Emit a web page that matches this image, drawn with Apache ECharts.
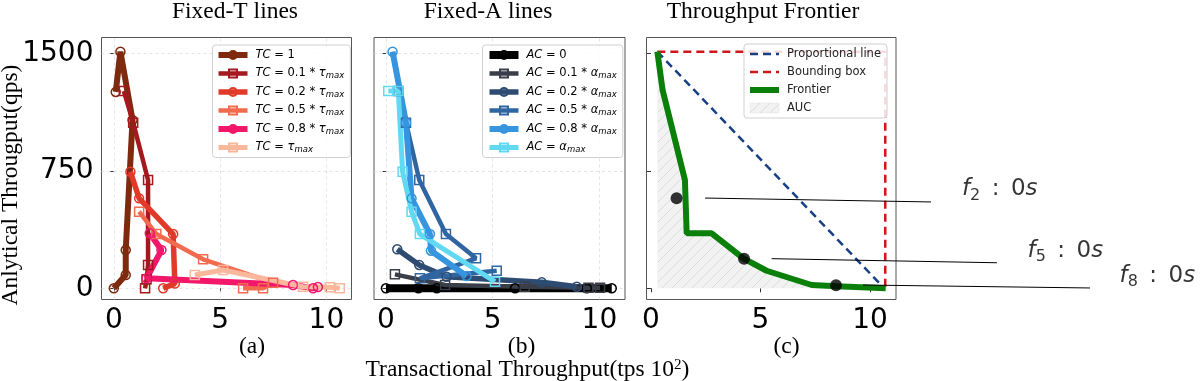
<!DOCTYPE html>
<html><head><meta charset="utf-8">
<script src="https://cdn.jsdelivr.net/npm/echarts@6/dist/echarts.min.js"></script>
<style>html,body{margin:0;padding:0;background:#fff}#c{width:1200px;height:381px}</style>
</head><body><div id="c"></div>
<script>
// ---------- data ----------
const xTicks = [0, 5, 10];
const yTicks = [0, 750, 1500];

const tcNames = ['TC=1', 'TC=0.1', 'TC=0.2', 'TC=0.5', 'TC=0.8', 'TC=max'];
const tcLabels = ['{i|TC} = 1', '{i|TC} = 0.1 * {i|τ}{s|max}', '{i|TC} = 0.2 * {i|τ}{s|max}', '{i|TC} = 0.5 * {i|τ}{s|max}', '{i|TC} = 0.8 * {i|τ}{s|max}', '{i|TC} = {i|τ}{s|max}'];
const tc1 = [[0,0],[0.56,85],[0.56,244],[0.88,1074],[0.31,1510],[0.09,1253]];
const tc01 = [[0.47,1259],[0.91,1057],[1.61,691],[1.61,149],[1.54,57],[1.47,0]];
const tc02 = [[2.32,0],[2.87,30],[2.79,346],[1.19,574],[0.78,744]];
const tc05 = [[1.19,489],[2.0,346],[4.2,185],[7.49,36],[7.02,0],[6.08,0]];
const tc08 = [[1.69,351],[2.24,244],[1.54,64],[8.43,21],[9.37,0],[9.6,8]];
const tcMax = [[3.81,85],[5.14,117],[8.9,10],[10.16,6],[10.63,0]];

const acNames = ['AC=0', 'AC=0.1', 'AC=0.2', 'AC=0.5', 'AC=0.8', 'AC=max'];
const acLabels = ['{i|AC} = 0', '{i|AC} = 0.1 * {i|α}{s|max}', '{i|AC} = 0.2 * {i|α}{s|max}', '{i|AC} = 0.5 * {i|α}{s|max}', '{i|AC} = 0.8 * {i|α}{s|max}', '{i|AC} = {i|α}{s|max}'];
const ac0 = [[0,0],[1.52,0],[2.38,0],[6.05,0],[9.41,0],[10.58,0]];
const ac01 = [[0.42,89],[2.77,21],[6.5,10],[9.49,4],[10.03,4]];
const ac02 = [[0.53,249],[1.56,149],[2.84,74],[7.3,38],[8.94,10]];
const ac05 = [[0.58,1259],[0.94,1057],[1.56,691],[2.81,346],[4.22,191],[1.59,64],[5.19,112]];
const ac08 = [[0.31,1510],[0.94,1057],[1.2,574],[2.06,346],[2.11,240],[3.78,78]];
const acMax = [[0.11,1259],[0.58,1259],[0.78,744],[1.2,489],[1.59,346],[5.11,42]];

const frontier = [[0.29,1510],[0.53,1265],[1.55,691],[1.63,351],[2.77,351],[4.22,191],[5.28,112],[7.34,21],[8.48,13],[10.72,0]];
const proportional = [[0.29,1510],[10.6,8]];
const boundingBox = [[0.29,1510],[10.7,1510],[10.7,0]];
const frontierDots = [[1.17,574],[4.25,189],[8.45,19]];
const annLines = [[2.47,576,12.79,551], [5.51,189,15.8,163], [9.68,21,20.05,2]];
const annTextPos = [[14.2,631],[17.2,240],[21.4,80]];
const annSubs = ['2', '5', '8'];

const titles = ['Fixed-T lines', 'Fixed-A lines', 'Throughput Frontier'];
const panelTags = ['(a)', '(b)', '(c)'];

// ---------- styles ----------
const tcColors = ['#7e2a0e', '#a3191d', '#e03a29', '#f36b4f', '#f2176a', '#f9b79c'];
const tcSymbols = ['circle', 'rect', 'circle', 'rect', 'circle', 'rect'];
const tcWidths = [6, 4.5, 5.5, 4.5, 6, 5];
const acColors = ['#000000', '#3a3e48', '#2e4b72', '#2f66a2', '#3794df', '#62d9f3'];
const acWidths = [8, 4.5, 5.5, 4.5, 6, 5];

const hatch = document.createElement('canvas');
hatch.width = 10; hatch.height = 10;
(function(){
  const g = hatch.getContext('2d');
  g.fillStyle = '#f2f2f2'; g.fillRect(0,0,10,10);
  g.strokeStyle = '#d6d6d6'; g.lineWidth = 0.8;
  g.beginPath(); g.moveTo(0,10); g.lineTo(10,0); g.moveTo(-1,1); g.lineTo(1,-1); g.moveTo(9,11); g.lineTo(11,9); g.stroke();
})();
const hatchFill = {image: hatch, repeat: 'repeat'};

const GT = 37.5, GH = 262;
const grids = [
  {left: 101.5, top: GT, width: 250, height: GH},
  {left: 374, top: GT, width: 251, height: GH},
  {left: 646.5, top: GT, width: 249.5, height: GH}
];
grids.forEach(g => { g.show = true; g.borderColor = '#555'; g.borderWidth = 1; g.backgroundColor = 'transparent'; g.containLabel = false; });
const xRanges = [[-0.58, 11.18], [-0.56, 11.2], [-0.205, 11.19]];

const xAxes = xRanges.map((r, i) => ({
  type: 'value', gridIndex: i, min: r[0], max: r[1],
  axisLine: {show: false}, splitLine: {show: false},
  axisTick: {show: true, customValues: xTicks, length: 4, lineStyle: {color: '#333'}},
  axisLabel: {show: true, customValues: xTicks, margin: 7, fontSize: 28, fontFamily: 'DejaVu Sans', color: '#000', formatter: v => String(v)}
}));
const yAxes = [0,1,2].map(i => ({
  type: 'value', gridIndex: i, min: -71.5, max: 1600.5,
  axisLine: {show: false}, splitLine: {show: false},
  axisTick: {show: true, customValues: yTicks, length: 4, lineStyle: {color: '#333'}},
  axisLabel: {show: i === 0, customValues: yTicks, margin: 8, fontSize: 28, fontFamily: 'DejaVu Sans', color: '#000', formatter: v => String(v)}
}));

function gridLines(i) {
  return {
    type: 'scatter', xAxisIndex: i, yAxisIndex: i, data: [[0,0]], symbolSize: 0, silent: true, z: 1,
    markLine: {silent: true, z: 1, symbol: 'none', animation: false, label: {show: false},
      lineStyle: {color: '#dedede', type: [3, 3], width: 0.8},
      data: xTicks.map(v => ({xAxis: v})).concat(yTicks.map(v => ({yAxis: v})))}
  };
}
function markerLine(name, data, color, sym, width, gi) {
  return {
    type: 'line', name: name, data: data, xAxisIndex: gi, yAxisIndex: gi,
    symbol: sym, symbolSize: 9, showSymbol: true, z: 3,
    lineStyle: {color: color, width: width},
    itemStyle: {color: 'rgba(255,255,255,0)', borderColor: color, borderWidth: 1.5},
    emphasis: {disabled: true}, animation: false
  };
}

const series = [gridLines(0), gridLines(1)];
[tc1, tc01, tc02, tc05, tc08, tcMax].forEach((d, k) => series.push(markerLine(tcNames[k], d, tcColors[k], tcSymbols[k], tcWidths[k], 0)));
[ac0, ac01, ac02, ac05, ac08, acMax].forEach((d, k) => series.push(markerLine(acNames[k], d, acColors[k], tcSymbols[k], acWidths[k], 1)));

series.push({type: 'line', name: 'AUC', data: frontier, xAxisIndex: 2, yAxisIndex: 2, symbol: 'none', z: 1,
  lineStyle: {width: 0, opacity: 0}, itemStyle: {color: hatchFill}, areaStyle: {color: hatchFill, origin: 0, opacity: 1}, animation: false});
series.push({type: 'line', name: 'Proportional line', data: proportional, xAxisIndex: 2, yAxisIndex: 2, symbol: 'none', z: 2,
  lineStyle: {color: '#173f84', width: 2.5, type: [8, 5]}, itemStyle: {color: '#173f84'}, animation: false});
series.push({type: 'line', name: 'Bounding box', data: boundingBox, xAxisIndex: 2, yAxisIndex: 2, symbol: 'none', z: 2,
  lineStyle: {color: '#d0161b', width: 2.5, type: [8, 5]}, itemStyle: {color: '#d0161b'}, animation: false});
series.push({type: 'line', name: 'Frontier', data: frontier, xAxisIndex: 2, yAxisIndex: 2, symbol: 'none', z: 3,
  lineStyle: {color: '#0a800a', width: 6}, itemStyle: {color: '#0a800a'}, animation: false});
series.push({type: 'scatter', data: frontierDots, xAxisIndex: 2, yAxisIndex: 2, symbolSize: 12, z: 5,
  itemStyle: {color: '#000'}, animation: false});
series.push({type: 'custom', data: annLines, xAxisIndex: 2, yAxisIndex: 2, clip: false, z: 6, silent: true, animation: false,
  encode: {x: [0, 2], y: [1, 3]},
  renderItem: (params, api) => {
    const a = api.coord([api.value(0), api.value(1)]);
    const b = api.coord([api.value(2), api.value(3)]);
    return {type: 'line', shape: {x1: a[0], y1: a[1], x2: b[0], y2: b[1]}, style: {stroke: '#000', lineWidth: 1}};
  }});
series.push({type: 'scatter', data: annTextPos, xAxisIndex: 2, yAxisIndex: 2,
  symbolSize: 0, clip: false, z: 6, silent: true, animation: false,
  label: {show: true, position: 'right', distance: 0, color: '#000',
    formatter: p => '{f|f}{sb|' + annSubs[p.dataIndex] + '}{t|\u2002:\u20020}{f|s}',
    rich: {
      f: {fontFamily: 'DejaVu Sans', fontStyle: 'italic', fontSize: 23, lineHeight: 28, color: '#000'},
      t: {fontFamily: 'DejaVu Sans', fontSize: 23, lineHeight: 28, color: '#000'},
      sb: {fontFamily: 'DejaVu Sans', fontSize: 16, lineHeight: 18, verticalAlign: 'bottom', color: '#000'}
    }}});

const legRich = {
  i: {fontFamily: 'DejaVu Sans', fontStyle: 'italic', fontSize: 11.5, lineHeight: 14, color: '#000'},
  s: {fontFamily: 'DejaVu Sans', fontStyle: 'italic', fontSize: 8.5, lineHeight: 9, verticalAlign: 'bottom', color: '#000'}
};
function makeLegend(names, labels, widths, left, top) {
  const map = {}; names.forEach((n, k) => map[n] = labels[k]);
  return {
    orient: 'vertical', left: left, top: top, selectedMode: false,
    data: names.map((n, k) => ({name: n, lineStyle: {width: widths[k]}})),
    itemWidth: 29, itemHeight: 10, itemGap: 4.5, padding: [3, 6, 3, 3],
    backgroundColor: 'rgba(255,255,255,0.85)', borderColor: '#d0d0d0', borderWidth: 1, borderRadius: 3,
    formatter: n => map[n],
    textStyle: {fontFamily: 'DejaVu Sans', fontSize: 11.5, lineHeight: 14, color: '#000', padding: [0,0,0,3], rich: legRich}
  };
}
const legends = [
  makeLegend(tcNames, tcLabels, tcWidths, 212.5, 45),
  makeLegend(acNames, acLabels, acWidths, 482.5, 45),
  {orient: 'vertical', left: 744, top: 44, selectedMode: false,
   data: [
     {name: 'Proportional line', itemStyle: {opacity: 0}, lineStyle: {width: 2.5}},
     {name: 'Bounding box', itemStyle: {opacity: 0}, lineStyle: {width: 2.5}},
     {name: 'Frontier', itemStyle: {opacity: 0}, lineStyle: {width: 6}},
     {name: 'AUC', icon: 'rect', itemStyle: {color: hatchFill, borderColor: '#e0e0e0', borderWidth: 0.5}}],
   itemWidth: 29, itemHeight: 10, itemGap: 4, padding: [3, 6, 3, 3],
   backgroundColor: 'rgba(255,255,255,0.85)', borderColor: '#d0d0d0', borderWidth: 1, borderRadius: 3,
   textStyle: {fontFamily: 'DejaVu Sans', fontSize: 11.5, lineHeight: 14, color: '#222', padding: [0,0,0,3]}}
];

const serif = 'Liberation Serif';
const titleX = [235, 488, 763];
const tagX = [252, 521.5, 786.5];
const graphic = [];
titles.forEach((t, k) => graphic.push({type: 'text', x: titleX[k], y: 12, silent: true,
  style: {text: t, fontFamily: serif, fontSize: 23.5, fill: '#000', textAlign: 'center', textVerticalAlign: 'middle'}}));
panelTags.forEach((t, k) => graphic.push({type: 'text', x: tagX[k], y: 346.5, silent: true,
  style: {text: t, fontFamily: serif, fontSize: 23.5, fill: '#000', textAlign: 'center', textVerticalAlign: 'middle'}}));
graphic.push({type: 'text', x: 11, y: 185, rotation: Math.PI / 2, silent: true,
  style: {text: 'Anlytical Througput(qps)', fontFamily: serif, fontSize: 23.5, fill: '#000', textAlign: 'center', textVerticalAlign: 'middle'}});
graphic.push({type: 'text', x: 527.5, y: 369.5, silent: true,
  style: {text: 'Transactional Throughput(tps 10{sup|2})', fontFamily: serif, fontSize: 23.5, fill: '#000', textAlign: 'center', textVerticalAlign: 'middle',
    rich: {sup: {fontFamily: serif, fontSize: 15, verticalAlign: 'top', lineHeight: 12}}}});

const chart = echarts.init(document.getElementById('c'), null, {renderer: 'canvas'});
chart.setOption({
  animation: false,
  textStyle: {fontFamily: 'DejaVu Sans'},
  grid: grids, xAxis: xAxes, yAxis: yAxes,
  legend: legends, series: series, graphic: graphic
});
</script></body></html>
